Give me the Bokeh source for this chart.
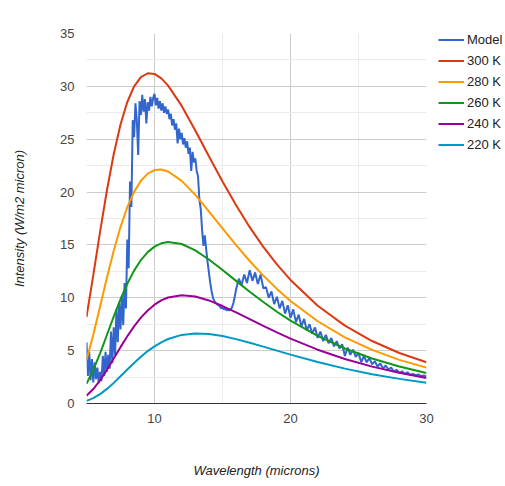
from bokeh.plotting import figure
from bokeh.models import Range1d, FixedTicker, Legend, LegendItem
from bokeh.layouts import row
from bokeh.embed import file_html
from bokeh.resources import INLINE

# ---------------- data ----------------
series_names = ["Model", "300 K", "280 K", "260 K", "240 K", "220 K"]
series_colors = ["#3366cc", "#dc3912", "#ff9900", "#109618", "#990099", "#0099c6"]

curve_wavelength = [5, 5.5, 6, 6.5, 7, 7.5, 8, 8.5, 9, 9.5, 10, 10.5, 11, 12, 13, 14,
                    15, 16, 17, 18, 19, 20, 22, 24, 26, 28, 30]
k300 = [8.18, 12.14, 16.26, 20.15, 23.58, 26.39, 28.52, 30.00, 30.88, 31.24, 31.18, 30.76,
        30.07, 28.15, 25.83, 23.39, 21.00, 18.75, 16.68, 14.82, 13.16, 11.69, 9.25, 7.37,
        5.91, 4.78, 3.90]
k280 = [4.12, 6.51, 9.18, 11.90, 14.45, 16.70, 18.57, 20.02, 21.07, 21.74, 22.08, 22.13,
        21.95, 21.06, 19.73, 18.18, 16.57, 14.98, 13.48, 12.10, 10.84, 9.70, 7.78, 6.26,
        5.07, 4.13, 3.39]
k260 = [1.87, 3.17, 4.75, 6.48, 8.21, 9.86, 11.32, 12.57, 13.57, 14.32, 14.84, 15.15,
        15.28, 15.09, 14.48, 13.62, 12.63, 11.60, 10.57, 9.60, 8.68, 7.84, 6.39, 5.20,
        4.26, 3.50, 2.89]
k240 = [0.74, 1.37, 2.20, 3.18, 4.25, 5.33, 6.36, 7.30, 8.12, 8.80, 9.35, 9.75,
        10.03, 10.25, 10.12, 9.75, 9.22, 8.62, 7.99, 7.35, 6.73, 6.14, 5.09, 4.21,
        3.49, 2.90, 2.42]
k220 = [0.25, 0.51, 0.89, 1.38, 1.95, 2.58, 3.22, 3.84, 4.43, 4.96, 5.41, 5.79,
        6.10, 6.49, 6.63, 6.57, 6.38, 6.09, 5.75, 5.38, 5.00, 4.62, 3.92, 3.30,
        2.77, 2.33, 1.96]

model_wavelength = [
    5.0, 5.1, 5.2, 5.3, 5.4, 5.5, 5.6, 5.7, 5.8, 5.9,
    6.0, 6.1, 6.2, 6.3, 6.4, 6.5, 6.6, 6.7, 6.8, 6.9,
    7.0, 7.1, 7.2, 7.3, 7.4, 7.5, 7.6, 7.7, 7.8, 7.9,
    8.0, 8.1, 8.2, 8.3, 8.4, 8.5, 8.6, 8.7, 8.8, 8.9,
    9.0, 9.1, 9.2, 9.3, 9.4, 9.5, 9.6, 9.7, 9.8, 9.9,
    10.0, 10.1, 10.2, 10.3, 10.4, 10.5, 10.6, 10.7, 10.8, 10.9,
    11.0, 11.1, 11.2, 11.3, 11.4, 11.5, 11.6, 11.7, 11.8, 11.9,
    12.0, 12.1, 12.2, 12.3, 12.4, 12.5, 12.6, 12.7, 12.8, 12.9,
    13.0, 13.1, 13.2, 13.3, 13.4, 13.5, 13.6, 13.7, 13.8, 13.9,
    14.0, 14.1, 14.2, 14.3, 14.4, 14.5, 14.6, 14.7, 14.8, 14.9,
    15.0, 15.1, 15.2, 15.3, 15.4, 15.5, 15.6, 15.7, 15.8, 15.9,
    16.0, 16.2, 16.4, 16.6, 16.8, 17.0, 17.2, 17.4, 17.6, 17.8,
    18.0, 18.2, 18.4, 18.6, 18.8, 19.0, 19.2, 19.4, 19.6, 19.8,
    20.0, 20.2, 20.4, 20.6, 20.8, 21.0, 21.2, 21.4, 21.6, 21.8,
    22.0, 22.2, 22.4, 22.6, 22.8, 23.0, 23.2, 23.4, 23.6, 23.8,
    24.0, 24.2, 24.4, 24.6, 24.8, 25.0, 25.2, 25.4, 25.6, 25.8,
    26.0, 26.2, 26.4, 26.6, 26.8, 27.0, 27.2, 27.4, 27.6, 27.8,
    28.0, 28.2, 28.4, 28.6, 28.8, 29.0, 29.2, 29.4, 29.6, 29.8,
    30.0]
model = [
    5.8, 2.6, 4.9, 2.2, 4.2, 2.0, 3.9, 2.3, 3.4, 1.9,
    3.0, 2.1, 4.5, 2.6, 4.9, 3.0, 4.6, 3.3, 6.8, 3.8,
    7.2, 4.6, 8.9, 5.8, 9.6, 7.0, 10.2, 7.4, 11.4, 9.0,
    15.5, 12.8, 21.0, 18.6, 26.8, 25.2, 28.4, 26.8, 23.5, 28.6,
    27.3, 29.2, 27.6, 28.8, 26.5, 28.5, 27.7, 29.0, 28.1, 28.9,
    29.3, 28.2, 28.9, 27.9, 28.6, 27.7, 28.4, 27.5, 28.1, 27.4,
    27.8, 26.9, 27.4, 26.3, 26.9, 25.9, 26.5, 24.6, 26.0, 25.0,
    25.6, 24.5, 25.1, 24.2, 24.8, 23.6, 24.2, 22.0, 23.8, 22.8,
    23.2, 22.0, 21.5, 19.3, 18.4, 16.4, 14.9, 15.9, 14.6, 13.4,
    12.4, 11.4, 10.6, 10.0, 9.7, 9.5, 9.4, 9.3, 9.2, 9.0,
    9.1, 8.9, 9.0, 8.8, 8.9, 8.8, 8.9, 9.1, 9.5, 10.1,
    10.8, 11.8, 11.2, 12.2, 11.4, 12.6, 11.6, 12.4, 11.3, 12.2,
    10.9, 11.0, 10.0, 10.6, 9.4, 10.1, 9.0, 9.7, 8.5, 9.3,
    8.1, 8.9, 7.7, 8.4, 7.3, 8.0, 6.9, 7.5, 6.6, 7.2,
    6.2, 6.8, 5.9, 6.5, 5.7, 6.2, 5.4, 5.9, 5.2, 5.6,
    4.5, 5.3, 4.6, 5.1, 4.4, 4.8, 3.9, 4.5, 3.9, 4.3,
    3.7, 4.0, 3.5, 3.8, 3.3, 3.6, 3.2, 3.4, 3.0, 3.2,
    2.9, 3.05, 2.8, 2.95, 2.7, 2.8, 2.65, 2.75, 2.6, 2.65,
    2.55]

x_major_ticks = [10, 20, 30]
x_minor_ticks = [5, 15, 25]
y_major_ticks = [0, 5, 10, 15, 20, 25, 30, 35]
y_minor_ticks = [2.5, 7.5, 12.5, 17.5, 22.5, 27.5, 32.5]

x_title = "Wavelength (microns)"
y_title = "Intensity (W/m2 micron)"

# ---------------- main figure ----------------
FONT = "Liberation Sans"

p = figure(width=434, height=486, output_backend="svg", toolbar_location=None,
           x_range=Range1d(5, 30), y_range=Range1d(0, 35),
           min_border_left=86, min_border_right=8, min_border_top=33,
           min_border_bottom=83)
p.outline_line_color = None
p.background_fill_color = "white"
p.border_fill_color = "white"

p.xaxis.ticker = FixedTicker(ticks=x_major_ticks, minor_ticks=x_minor_ticks)
p.yaxis.ticker = FixedTicker(ticks=y_major_ticks, minor_ticks=y_minor_ticks)

for g in (p.xgrid, p.ygrid):
    g.grid_line_color = "#cccccc"
    g.grid_line_width = 1
    g.minor_grid_line_color = "#ebebeb"
    g.minor_grid_line_width = 1

for ax in (p.xaxis, p.yaxis):
    ax.major_tick_line_color = None
    ax.minor_tick_line_color = None
    ax.major_label_text_font = FONT
    ax.major_label_text_font_size = "13px"
    ax.major_label_text_color = "#444444"
    ax.axis_label_text_font = FONT
    ax.axis_label_text_font_size = "13px"
    ax.axis_label_text_font_style = "italic"
    ax.axis_label_text_color = "#222222"

p.yaxis.axis_line_color = None
p.xaxis.axis_line_color = "#333333"
p.xaxis.axis_line_width = 1
p.yaxis.major_label_standoff = 6
p.xaxis.major_label_standoff = 4
p.yaxis.axis_label = y_title
p.xaxis.axis_label = x_title
p.yaxis.axis_label_standoff = 30
p.xaxis.axis_label_standoff = 37

all_x = [model_wavelength] + [curve_wavelength] * 5
all_y = [model, k300, k280, k260, k240, k220]

for xs, ys, col in zip(all_x, all_y, series_colors):
    p.line(xs, ys, line_color=col, line_width=2)

# ---------------- legend panel ----------------
lp = figure(width=71, height=486, output_backend="svg", toolbar_location=None,
            x_axis_location=None, y_axis_location=None,
            x_range=Range1d(-2, -1), y_range=Range1d(-2, -1), min_border=0)
lp.outline_line_color = None
lp.grid.visible = False
lp.background_fill_color = "white"
lp.border_fill_color = "white"

items = []
for name, xs, ys, col in zip(series_names, all_x, all_y, series_colors):
    rr = lp.line(xs, ys, line_color=col, line_width=2)
    items.append(LegendItem(label=name, renderers=[rr]))

legend = Legend(items=items, location=(4, 250), orientation="vertical")
legend.background_fill_alpha = 0
legend.border_line_color = None
legend.label_text_font = FONT
legend.label_text_font_size = "13px"
legend.label_text_color = "#222222"
legend.glyph_width = 26
legend.glyph_height = 17
legend.label_height = 17
legend.label_standoff = 3
legend.spacing = 4
legend.padding = 0
legend.margin = 0
lp.add_layout(legend, "center")

layout = row(p, lp, spacing=0)
open("out.html", "w").write(file_html(layout, INLINE))
